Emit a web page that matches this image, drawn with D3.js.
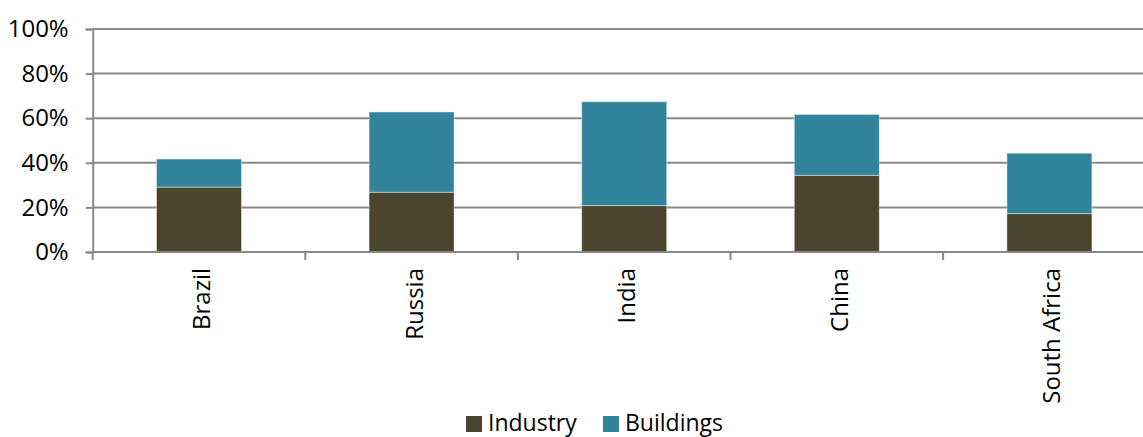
<!DOCTYPE html>
<html>
<head>
<meta charset="utf-8">
<script src="https://cdn.jsdelivr.net/npm/d3@7"></script>
<style>
  html, body { margin: 0; padding: 0; background: #fff; }
  svg { display: block; font-family: "Open Sans", "Noto Sans", sans-serif; }
</style>
</head>
<body>
<svg id="chart" width="1143" height="437"></svg>
<script>
// Share of final energy use by sector
const countries = ["Brazil", "Russia", "India", "China", "South Africa"];
const industry  = [0.291, 0.268, 0.208, 0.344, 0.172];
const buildings = [0.126, 0.360, 0.466, 0.273, 0.271];
const seriesNames = ["Industry", "Buildings"];
const seriesColors = ["#4a452c", "#31849b"];
const yTicks = [0, 0.2, 0.4, 0.6, 0.8, 1.0];

const svg = d3.select("#chart");
const plotLeft = 92.7, plotRight = 1155.7, plotTop = 29, plotBottom = 252;

const x = d3.scaleBand().domain(countries).range([plotLeft, plotRight]).paddingInner(0.6).paddingOuter(0.3);
const y = d3.scaleLinear().domain([0, 1]).range([plotBottom, plotTop]);

const rows = countries.map((c, i) => ({ country: c, Industry: industry[i], Buildings: buildings[i] }));
const stacked = d3.stack().keys(seriesNames)(rows);

// Horizontal gridlines
svg.append("g")
  .selectAll("line")
  .data(yTicks.filter(t => t > 0))
  .join("line")
  .attr("x1", plotLeft).attr("x2", 1143)
  .attr("y1", d => y(d)).attr("y2", d => y(d))
  .attr("stroke", "#898989").attr("stroke-width", 2);

// Y axis
const yAxis = d3.axisLeft(y).tickValues(yTicks).tickFormat(d3.format(".0%")).tickSize(7).tickPadding(17);
const yg = svg.append("g").attr("transform", `translate(${plotLeft},0)`).call(yAxis);
yg.select(".domain").attr("stroke", "#898989").attr("stroke-width", 2);
yg.selectAll(".tick line").attr("stroke", "#898989").attr("stroke-width", 2);
yg.selectAll("text").attr("fill", "#000").style("font-size", "24px").style("font-family", "'Open Sans', sans-serif");

// Stacked bars
svg.append("g")
  .selectAll("g")
  .data(stacked)
  .join("g")
  .attr("fill", (d, i) => seriesColors[i])
  .selectAll("rect")
  .data(d => d)
  .join("rect")
  .attr("x", d => x(d.data.country))
  .attr("width", x.bandwidth())
  .attr("y", d => y(d[1]))
  .attr("height", d => y(d[0]) - y(d[1]))
  .attr("stroke", "rgba(255,255,255,0.45)")
  .attr("stroke-width", 1);

// X axis with ticks between categories
const xg = svg.append("g").attr("transform", `translate(0,${plotBottom})`);
xg.append("line").attr("x1", plotLeft).attr("x2", 1143).attr("y1", 0).attr("y2", 0)
  .attr("stroke", "#898989").attr("stroke-width", 2);
const step = x.step();
const boundaries = d3.range(countries.length + 1).map(i => plotLeft + i * step);
xg.selectAll("line.sep").data(boundaries).join("line").attr("class", "sep")
  .attr("x1", d => d).attr("x2", d => d).attr("y1", 0).attr("y2", 8)
  .attr("stroke", "#898989").attr("stroke-width", 2);

// Rotated category labels
svg.append("g")
  .selectAll("text")
  .data(countries)
  .join("text")
  .attr("transform", d => `translate(${x(d) + x.bandwidth() / 2 + 11},268) rotate(-90)`)
  .attr("text-anchor", "end")
  .style("font-size", "24px")
  .attr("fill", "#000")
  .text(d => d);

// Legend
const legend = svg.append("g").attr("transform", "translate(466,0)");
const items = [{ name: seriesNames[0], color: seriesColors[0], dx: 0 }, { name: seriesNames[1], color: seriesColors[1], dx: 137 }];
const li = legend.selectAll("g").data(items).join("g").attr("transform", d => `translate(${d.dx},0)`);
li.append("rect").attr("x", 0).attr("y", 416).attr("width", 16).attr("height", 16).attr("fill", d => d.color);
li.append("text").attr("x", 22).attr("y", 431).style("font-size", "23px").attr("fill", "#000").text(d => d.name);
</script>
</body>
</html>
